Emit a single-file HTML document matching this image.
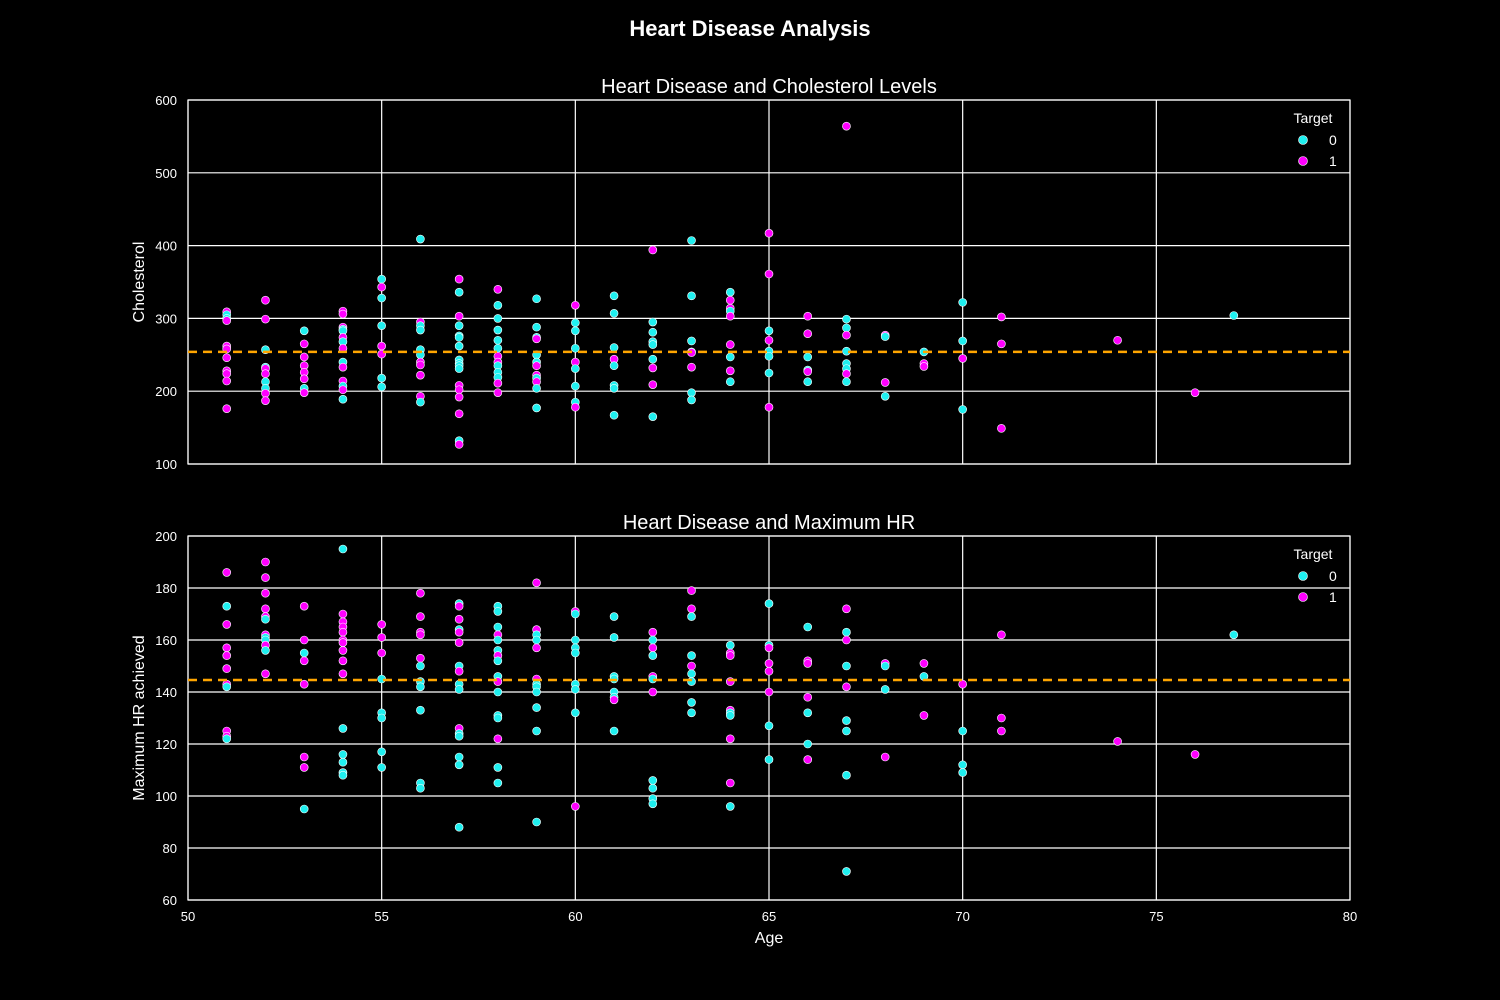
<!DOCTYPE html>
<html><head><meta charset="utf-8"><style>
html,body{margin:0;padding:0;background:#000;}
svg{display:block;font-family:"Liberation Sans",sans-serif;}
</style></head><body>
<svg id="chart" width="1500" height="1000" viewBox="0 0 1500 1000">
<rect width="1500" height="1000" fill="#000"/>
<text x="750" y="36" text-anchor="middle" fill="#fff" font-size="22" font-weight="bold">Heart Disease Analysis</text>
<text x="769" y="93" text-anchor="middle" fill="#fff" font-size="20">Heart Disease and Cholesterol Levels</text>
<text x="769" y="529" text-anchor="middle" fill="#fff" font-size="20">Heart Disease and Maximum HR</text>
<text transform="translate(144,282) rotate(-90)" text-anchor="middle" fill="#fff" font-size="16">Cholesterol</text>
<text transform="translate(144,718) rotate(-90)" text-anchor="middle" fill="#fff" font-size="16">Maximum HR achieved</text>
<text x="769" y="943" text-anchor="middle" fill="#fff" font-size="16">Age</text>
<g id="top"></g><g id="bot"></g>
</svg>
<script>
const xTicks = [50,55,60,65,70,75,80];
const cholTicks = [100,200,300,400,500,600];
const hrTicks = [60,80,100,120,140,160,180,200];
const cholMean = 254;
const hrMean = 144.6;
const cholPoints = [
[51,309,1],[51,305,0],[51,300,0],[51,297,1],[51,262,1],[51,258,1],[51,246,1],[51,228,1],[51,224,1],[51,214,1],[51,176,1],
[52,325,1],[52,299,1],[52,257,0],[52,233,0],[52,231,1],[52,224,1],[52,213,0],[52,204,0],[52,197,1],[52,187,1],
[53,283,0],[53,265,1],[53,247,1],[53,235,1],[53,226,1],[53,217,1],[53,204,0],[53,198,1],
[54,310,1],[54,306,1],[54,288,1],[54,285,0],[54,283,0],[54,274,1],[54,268,0],[54,259,1],[54,240,0],[54,233,1],[54,214,1],[54,207,0],[54,202,1],[54,189,0],
[55,354,0],[55,343,1],[55,328,0],[55,290,0],[55,262,1],[55,251,1],[55,218,0],[55,206,0],
[56,409,0],[56,295,1],[56,290,0],[56,284,0],[56,257,0],[56,250,0],[56,240,1],[56,236,1],[56,222,1],[56,193,1],[56,185,0],
[57,354,1],[57,336,0],[57,303,1],[57,290,0],[57,276,0],[57,274,0],[57,262,0],[57,243,0],[57,238,0],[57,235,0],[57,231,0],[57,208,1],[57,202,1],[57,192,1],[57,169,1],[57,132,0],[57,127,1],
[58,340,1],[58,318,0],[58,300,0],[58,284,0],[58,270,0],[58,259,0],[58,248,1],[58,240,1],[58,235,0],[58,226,0],[58,219,0],[58,211,1],[58,198,1],
[59,327,0],[59,288,0],[59,274,0],[59,272,1],[59,250,0],[59,240,0],[59,235,1],[59,222,1],[59,218,0],[59,213,1],[59,204,0],[59,177,0],
[60,318,1],[60,294,0],[60,283,0],[60,259,0],[60,240,1],[60,231,0],[60,207,0],[60,185,0],[60,178,1],
[61,331,0],[61,307,0],[61,260,0],[61,244,1],[61,235,0],[61,208,0],[61,204,0],[61,167,0],
[62,394,1],[62,295,0],[62,281,0],[62,268,0],[62,264,0],[62,244,0],[62,232,1],[62,209,1],[62,165,0],
[63,407,0],[63,331,0],[63,269,0],[63,254,0],[63,253,1],[63,233,1],[63,198,0],[63,188,0],
[64,336,0],[64,325,1],[64,314,1],[64,310,0],[64,303,1],[64,264,1],[64,247,0],[64,228,1],[64,213,0],
[65,417,1],[65,361,1],[65,283,0],[65,270,1],[65,255,0],[65,248,0],[65,225,0],[65,178,1],
[66,303,1],[66,279,1],[66,247,0],[66,229,0],[66,227,1],[66,213,0],
[67,564,1],[67,299,0],[67,287,0],[67,277,1],[67,255,0],[67,238,0],[67,231,0],[67,224,1],[67,213,0],
[68,277,1],[68,275,0],[68,212,1],[68,193,0],
[69,254,0],[69,238,1],[69,234,1],
[70,322,0],[70,269,0],[70,245,1],[70,175,0],
[71,302,1],[71,265,1],[71,149,1],
[74,270,1],[76,198,1],[77,304,0]
];
const hrPoints = [
[51,186,1],[51,173,0],[51,166,1],[51,157,1],[51,154,1],[51,149,1],[51,143,1],[51,142,0],[51,125,1],[51,123,1],[51,122,0],
[52,190,1],[52,184,1],[52,178,1],[52,172,1],[52,169,1],[52,168,0],[52,162,1],[52,161,0],[52,160,0],[52,158,1],[52,156,0],[52,147,1],
[53,173,1],[53,160,1],[53,155,0],[53,152,1],[53,143,1],[53,115,1],[53,111,1],[53,95,0],
[54,195,0],[54,170,1],[54,167,1],[54,165,1],[54,163,1],[54,160,1],[54,159,1],[54,156,1],[54,152,1],[54,147,1],[54,126,0],[54,116,0],[54,113,0],[54,109,0],[54,108,0],
[55,166,1],[55,161,1],[55,155,1],[55,145,0],[55,132,0],[55,130,0],[55,117,0],[55,111,0],
[56,178,1],[56,169,1],[56,163,1],[56,162,1],[56,153,1],[56,150,0],[56,144,0],[56,142,0],[56,133,0],[56,105,0],[56,103,0],
[57,174,0],[57,173,1],[57,168,1],[57,164,0],[57,163,1],[57,159,1],[57,150,0],[57,148,1],[57,143,0],[57,141,0],[57,126,1],[57,124,0],[57,123,0],[57,115,0],[57,112,0],[57,88,0],
[58,173,0],[58,171,0],[58,165,0],[58,162,1],[58,160,0],[58,156,0],[58,154,1],[58,152,0],[58,146,0],[58,144,1],[58,140,0],[58,131,0],[58,130,0],[58,122,1],[58,111,0],[58,105,0],
[59,182,1],[59,164,1],[59,162,0],[59,160,0],[59,157,1],[59,145,1],[59,143,0],[59,142,0],[59,140,0],[59,134,0],[59,125,0],[59,90,0],
[60,171,1],[60,170,0],[60,160,0],[60,157,0],[60,155,0],[60,143,0],[60,141,0],[60,132,0],[60,96,1],
[61,169,0],[61,161,0],[61,146,0],[61,145,0],[61,140,0],[61,138,0],[61,137,1],[61,125,0],
[62,163,1],[62,160,0],[62,157,1],[62,154,0],[62,146,1],[62,145,0],[62,140,1],[62,106,0],[62,103,0],[62,99,0],[62,97,0],
[63,179,1],[63,172,1],[63,169,0],[63,154,0],[63,150,1],[63,147,0],[63,144,0],[63,136,0],[63,132,0],
[64,158,0],[64,155,1],[64,154,1],[64,144,1],[64,133,1],[64,132,0],[64,131,0],[64,122,1],[64,105,1],[64,96,0],
[65,174,0],[65,158,0],[65,157,1],[65,151,1],[65,148,1],[65,140,1],[65,127,0],[65,114,0],
[66,165,0],[66,152,1],[66,151,1],[66,138,1],[66,132,0],[66,120,0],[66,114,1],
[67,172,1],[67,163,0],[67,160,1],[67,150,0],[67,142,1],[67,129,0],[67,125,0],[67,108,0],[67,71,0],
[68,151,1],[68,150,0],[68,141,0],[68,115,1],
[69,151,1],[69,146,0],[69,131,1],
[70,143,1],[70,125,0],[70,112,0],[70,109,0],
[71,162,1],[71,130,1],[71,125,1],
[74,121,1],[76,116,1],[77,162,0]
];
const colors = ['#1ff0f0','#ff00ff'];
const NS = 'http://www.w3.org/2000/svg';
const L = 188, R = 1350;
const xs = v => L + (v - 50) / 30 * (R - L);
function mk(tag, attrs, parent){ const e = document.createElementNS(NS, tag); for (const k in attrs) e.setAttribute(k, attrs[k]); parent.appendChild(e); return e; }

function panel(gid, top, bottom, ymin, ymax, yTicks, points, mean, showX, prefix){
  const g = document.getElementById(gid);
  const ys = v => bottom - (v - ymin) / (ymax - ymin) * (bottom - top);
  xTicks.forEach(t => {
    const ln = mk('line', {x1: xs(t), x2: xs(t), y1: top, y2: bottom, stroke: '#fff', 'stroke-width': 1.2}, g);
    
    
    if (showX) {
      const tx = mk('text', {x: xs(t), y: bottom + 21, fill: '#fff', 'font-size': 13, 'text-anchor': 'middle'}, g);
      tx.textContent = t;
      
      
    }
  });
  yTicks.forEach(t => {
    const ln = mk('line', {x1: L, x2: R, y1: ys(t), y2: ys(t), stroke: '#fff', 'stroke-width': 1.2}, g);
    
    
    const tx = mk('text', {x: 177, y: ys(t) + 5, fill: '#fff', 'font-size': 13, 'text-anchor': 'end'}, g);
    tx.textContent = t;
    
    
  });
  const fr = mk('rect', {x: L, y: top, width: R - L, height: bottom - top, fill: 'none', stroke: '#fff', 'stroke-width': 1.2}, g);
  
  
  points.forEach(p => {
    const c = mk('circle', {cx: xs(p[0]), cy: ys(p[1]), r: 4, fill: colors[p[2]], stroke: '#fff', 'stroke-width': 0.6}, g);
    
    
  });
  const ml = mk('line', {x1: L, x2: R, y1: ys(mean), y2: ys(mean), stroke: '#ffa500', 'stroke-width': 2.5, 'stroke-dasharray': '9,6'}, g);
  
  
  const lg = mk('g', {}, g);
  
  
  const lt = mk('text', {x: 1313, y: top + 23, fill: '#fff', 'font-size': 14, 'text-anchor': 'middle'}, lg);
  lt.textContent = 'Target';
  
  
  [0, 1].forEach(i => {
    const cy = top + 40 + i * 21;
    const c = mk('circle', {cx: 1303, cy: cy, r: 4.5, fill: colors[i], stroke: '#fff', 'stroke-width': 0.6}, lg);
    
    
    const t = mk('text', {x: 1329, y: cy + 5, fill: '#fff', 'font-size': 14}, lg);
    t.textContent = String(i);
    
    
  });
}
panel('top', 100, 464, 100, 600, cholTicks, cholPoints, cholMean, false, 'cholesterol');
panel('bot', 536, 900, 60, 200, hrTicks, hrPoints, hrMean, true, 'max-hr');
</script>
</body></html>
